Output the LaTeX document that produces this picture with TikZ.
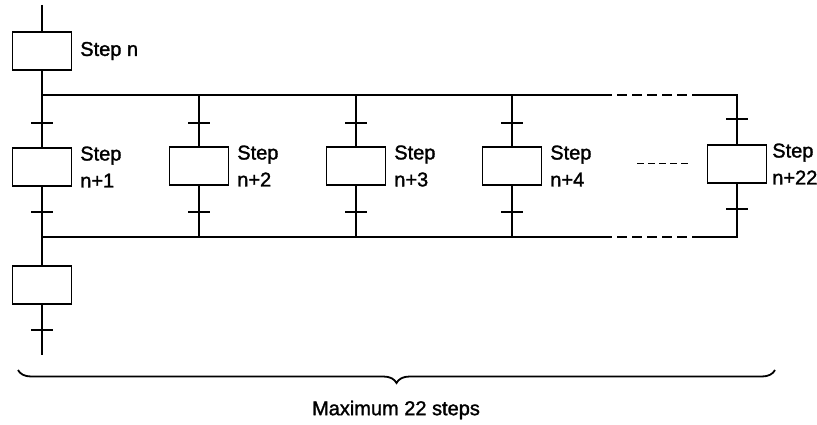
\documentclass[tikz,border=0pt]{standalone}
\usepackage{fontspec}
\setmainfont[FakeBold=1.5]{Liberation Sans}
\usetikzlibrary{positioning,decorations.pathreplacing}

\begin{document}
\begin{tikzpicture}[x=1pt, y=-1pt, line width=1.8pt,
        stepbox/.style={draw, line width=1.8pt, minimum width=59pt, minimum height=38pt, inner sep=0pt},
        steplabel/.style={font=\fontsize{20}{27}\selectfont, align=left, inner sep=0pt},
        tick/.style={line width=1.6pt},
        gap/.style={dash pattern=on 10pt off 5pt}]
            \useasboundingbox (0,0) rectangle (817,425);

            % Step n and the line into it
            \coordinate (top) at (42,5);
            \node[stepbox] (sn) at (42,51) {};
            \node[steplabel, right=7pt of sn] (lsn) {Step n};
            \draw (top) -- (sn.north);

            % Divergence and convergence bars
            \coordinate (tj1) at (42,95);
            \coordinate (tdash) at (602,95);
            \coordinate (tdashend) at (698,95);
            \coordinate (tj22) at (737,95);
            \coordinate (bj1) at (42,237);
            \coordinate (bdash) at (602,237);
            \coordinate (bdashend) at (698,237);
            \coordinate (bj22) at (737,237);
            \draw (tj1) -- (tdash);
            \draw[gap] (tdash) -- (tdashend);
            \draw (bj1) -- (bdash);
            \draw[gap] (bdash) -- (bdashend);

            % Step n+1 on the main line
            \node[stepbox] (s1) at (42,167) {};
            \node[steplabel, right=7pt of s1] (ls1) {Step\\n+1};
            \draw (sn.south) -- (s1.north);
            \draw[tick] (31,123) -- (53,123);
            \draw[tick] (31,212) -- (53,212);

            % Parallel branches
            \foreach \x/\n in {199/2, 356/3, 512/4} {
                \node[stepbox] (s\n) at (\x,166) {};
                \node[steplabel, right=7pt of s\n] (ls\n) {Step\\n+\n};
                \draw (\x,95) -- (s\n.north);
                \draw (s\n.south) -- (\x,237);
                \draw[tick] (\x-11,123) -- (\x+11,123);
                \draw[tick] (\x-11,212) -- (\x+11,212);
            }

            % Last branch, step n+22
            \node[stepbox] (s22) at (737,164) {};
            \node[steplabel, right=4pt of s22] (ls22) {Step\\n+22};
            \draw (tdashend) -- (tj22) -- (s22.north);
            \draw (s22.south) -- (bj22) -- (bdashend);
            \draw[tick] (726,119) -- (748,119);
            \draw[tick] (726,209) -- (748,209);
            \coordinate (dl) at (637,164);
            \coordinate (dr) at (688,164);
            \draw[line width=1pt, dash pattern=on 7pt off 4pt] (dl) -- (dr);

            % Step after convergence
            \node[stepbox] (sb) at (42,285) {};
            \draw (s1.south) -- (sb.north);
            \coordinate (tail) at (42,355);
            \draw[line width=1.3pt] (sb.south) -- (tail);
            \draw[tick] (31,330) -- (53,330);

            % Brace
            \coordinate (bl) at (18,370);
            \coordinate (br) at (775,370);
            \draw[line width=1.8pt, decorate, decoration={brace, mirror, amplitude=13pt}] (bl) -- (br);
            \node[steplabel] (cap) at (396,410) {Maximum 22 steps};
        \end{tikzpicture}
\end{document}
